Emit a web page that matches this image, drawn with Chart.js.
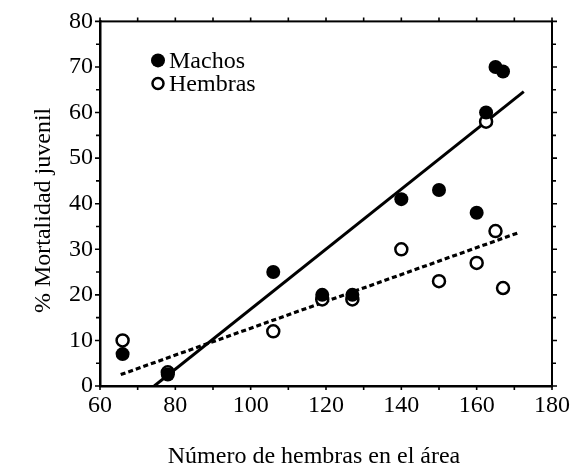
<!DOCTYPE html>
<html><head><meta charset="utf-8">
<script src="https://cdn.jsdelivr.net/npm/chart.js@4/dist/chart.umd.min.js"></script>
<style>html,body{margin:0;padding:0;background:#fff}#wrap{width:575px;height:465px}</style>
</head><body><div id="wrap"><canvas id="c" width="575" height="465"></canvas></div>
<script>
const numHembras = [66, 78, 106, 119, 127, 140, 150, 160, 162.5, 165, 167];
const machos = [7, 2.5, 25, 20, 20, 41, 43, 38, 60, 70, 69];
const hembras = [10, 3, 12, 19, 19, 30, 23, 27, 58, 34, 21.5];
const fitMachosX = [74.4, 172.5];
const fitMachosY = [0, 64.6];
const fitHembrasX = [65.5, 171];
const fitHembrasY = [2.5, 33.6];
const xTicks = [60, 80, 100, 120, 140, 160, 180];
const yTicks = [0, 10, 20, 30, 40, 50, 60, 70, 80];
const legendLabels = ['Machos', 'Hembras'];
const xTitle = 'Número de hembras en el área';
const yTitle = '% Mortalidad juvenil';

const FONT = 'Liberation Serif';
const pts = (xs, ys) => xs.map((x, i) => ({x: x, y: ys[i]}));

const framePlugin = {
  id: 'frame',
  afterDraw(chart) {
    const {ctx, chartArea: {left, right, top, bottom}, scales: {x, y}} = chart;
    ctx.save();
    ctx.strokeStyle = '#000';
    ctx.lineWidth = 2;
    ctx.strokeRect(left, top, right - left, bottom - top);
    ctx.lineWidth = 1.6;
    ctx.beginPath();
    for (let v = x.min; v <= x.max; v += 10) {
      const px = x.getPixelForValue(v);
      ctx.moveTo(px, bottom); ctx.lineTo(px, bottom + 4);
      ctx.moveTo(px, top); ctx.lineTo(px, top - 4);
    }
    for (let v = y.min; v <= y.max; v += 5) {
      const py = y.getPixelForValue(v);
      const L = v % 10 === 0 ? 5 : 4;
      ctx.moveTo(left, py); ctx.lineTo(left - L, py);
      ctx.moveTo(right, py); ctx.lineTo(right + L, py);
    }
    ctx.stroke();
    ctx.fillStyle = '#000';
    ctx.font = '24px "' + FONT + '"';
    ctx.textAlign = 'center';
    ctx.textBaseline = 'alphabetic';
    // axis titles
    ctx.fillText(xTitle, left + 214, bottom + 77);
    ctx.save();
    ctx.translate(left - 50, top + 189);
    ctx.rotate(-Math.PI / 2);
    ctx.fillText(yTitle, 0, 0);
    ctx.restore();
    // legend
    const lx = left + 58, ly = top + 39, gap = 23;
    ctx.beginPath(); ctx.arc(lx, ly, 7, 0, Math.PI * 2); ctx.fill();
    ctx.lineWidth = 2.5;
    ctx.beginPath(); ctx.arc(lx, ly + gap, 5.5, 0, Math.PI * 2); ctx.fillStyle = '#fff'; ctx.fill(); ctx.stroke();
    ctx.fillStyle = '#000';
    ctx.textBaseline = 'middle';
    ctx.textAlign = 'left';
    ctx.fillText(legendLabels[0], lx + 11, ly + 1);
    ctx.fillText(legendLabels[1], lx + 11, ly + gap + 1);
    ctx.restore();
  }
};

new Chart(document.getElementById('c'), {
  type: 'scatter',
  data: {
    datasets: [
      {label: legendLabels[0], data: pts(numHembras, machos), pointRadius: 7, pointBackgroundColor: '#000', pointBorderColor: '#000', pointBorderWidth: 0, order: 0},
      {label: legendLabels[1], data: pts(numHembras, hembras), pointRadius: 6, pointBackgroundColor: '#fff', pointBorderColor: '#000', pointBorderWidth: 2.5, order: 1},
      {label: 'fitM', data: pts(fitMachosX, fitMachosY), showLine: true, pointRadius: 0, borderColor: '#000', borderWidth: 3, order: 2},
      {label: 'fitH', data: pts(fitHembrasX, fitHembrasY), showLine: true, pointRadius: 0, borderColor: '#000', borderWidth: 3.2, borderDash: [5, 3], order: 3}
    ]
  },
  options: {
    responsive: false, animation: false, devicePixelRatio: 1,
    layout: {padding: {top: 19, right: 22, left: 0, bottom: 0}},
    plugins: {legend: {display: false}, tooltip: {enabled: false}},
    scales: {
      x: {
        type: 'linear', min: 60, max: 180,
        afterBuildTicks: s => { s.ticks = xTicks.map(v => ({value: v})); },
        afterFit: s => { s.height = 79; },
        grid: {drawOnChartArea: false, drawTicks: false},
        border: {display: true, color: '#000', width: 2.5},
        ticks: {color: '#000', font: {family: FONT, size: 24}, padding: 5, maxRotation: 0, autoSkip: false},
        title: {display: false}
      },
      y: {
        type: 'linear', min: 0, max: 80,
        afterBuildTicks: s => { s.ticks = yTicks.map(v => ({value: v})); },
        afterFit: s => { s.width = 100; },
        grid: {drawOnChartArea: false, drawTicks: false},
        border: {display: true, color: '#000', width: 2.5},
        ticks: {color: '#000', font: {family: FONT, size: 24}, padding: 7, autoSkip: false},
        title: {display: false}
      }
    }
  },
  plugins: [framePlugin]
});
</script>
</body></html>
